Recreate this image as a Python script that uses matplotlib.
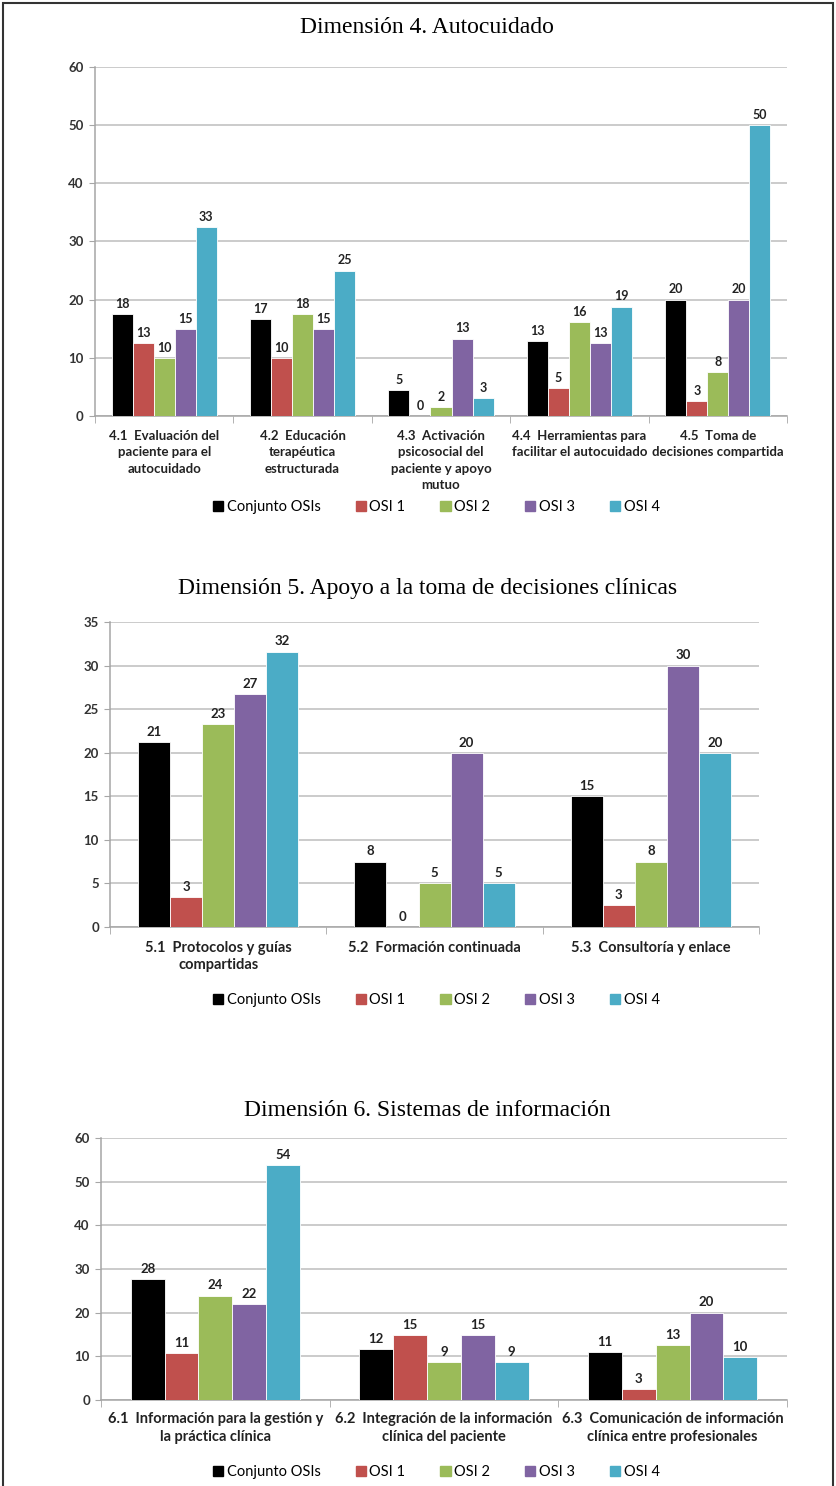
import matplotlib
matplotlib.use('Agg')
import matplotlib.pyplot as plt
import matplotlib.patches as mpatches
import numpy as np

# ── data ────────────────────────────────────────────────
series = ["Conjunto OSIs", "OSI 1", "OSI 2", "OSI 3", "OSI 4"]
colors = ['#000000', '#C0504D', '#9BBB59', '#8064A2', '#4BACC6']

cats4 = ["4.1  Evaluación del\npaciente para el\nautocuidado",
         "4.2  Educación\nterapéutica\nestructurada",
         "4.3  Activación\npsicosocial del\npaciente y apoyo\nmutuo",
         "4.4  Herramientas para\nfacilitar el autocuidado",
         "4.5  Toma de\ndecisiones compartida"]
# rows = series, cols = categories
vals4 = [[17.5, 16.7, 4.5, 12.9, 20.0],
         [12.5, 10.0, 0.0, 4.8, 2.5],
         [10.0, 17.5, 1.5, 16.1, 7.5],
         [15.0, 15.0, 13.3, 12.5, 20.0],
         [32.5, 25.0, 3.1, 18.8, 50.0]]

cats5 = ["5.1  Protocolos y guías\ncompartidas",
         "5.2  Formación continuada",
         "5.3  Consultoría y enlace"]
vals5 = [[21.2, 7.5, 15.0],
         [3.4, 0.0, 2.5],
         [23.3, 5.0, 7.5],
         [26.7, 20.0, 30.0],
         [31.6, 5.0, 20.0]]

cats6 = ["6.1  Información para la gestión y\nla práctica clínica",
         "6.2  Integración de la información\nclínica del paciente",
         "6.3  Comunicación de información\nclínica entre profesionales"]
vals6 = [[27.6, 11.6, 11.0],
         [10.8, 14.8, 2.5],
         [23.9, 8.7, 12.5],
         [21.9, 14.8, 20.0],
         [53.8, 8.7, 9.8]]

TICK_FONT = 'Lato'
TITLE_FONT = 'Liberation Serif'

fig = plt.figure(figsize=(8.36, 14.86), dpi=100)

# outer frame
frame = mpatches.Rectangle((0.003, -0.01), 0.994, 1.008, transform=fig.transFigure,
                           fill=False, edgecolor='#333333', linewidth=1.5)
fig.patches.append(frame)


def panel(rect, cats, vals, ymax, ystep, title, title_y, legend_y, bw, lblsize, valsize,
          lspace=1.3, lpad=8):
    ax = fig.add_axes(rect)
    n = len(cats)
    x = np.arange(n)
    for i, (name, col) in enumerate(zip(series, colors)):
        pos = x + (i - 2) * bw
        ax.bar(pos, vals[i], bw, color=col, edgecolor='white', linewidth=0.6,
               zorder=3, label=name)
        for px, v in zip(pos, vals[i]):
            ax.annotate(f'{int(v + 0.5)}', (px, v), xytext=(0, 3),
                        textcoords='offset points', ha='center', va='bottom',
                        fontsize=valsize, fontweight='bold', color='#222222',
                        family=TICK_FONT)
    ax.set_xlim(-0.5, n - 0.5)
    ax.set_ylim(0, ymax)
    ax.set_yticks(np.arange(0, ymax + 0.1, ystep))
    ax.grid(axis='y', color='#bdbdbd', linewidth=1.1, zorder=0)
    ax.set_axisbelow(True)
    for s in ['top', 'right']:
        ax.spines[s].set_visible(False)
    for s in ['left', 'bottom']:
        ax.spines[s].set_color('#a6a6a6')
        ax.spines[s].set_linewidth(1.1)
    ax.set_xticks(x)
    ax.set_xticklabels(cats, fontsize=lblsize, fontweight='bold',
                       family=TICK_FONT, color='#222222', linespacing=lspace)
    ax.tick_params(axis='x', length=0, pad=lpad)
    ax.set_xticks(np.arange(-0.5, n, 1.0), minor=True)
    ax.tick_params(axis='x', which='minor', length=5, color='#a6a6a6')
    ax.tick_params(axis='y', length=4, color='#a6a6a6', labelsize=9.5,
                   labelcolor='#333333', pad=4)
    for t in ax.get_yticklabels():
        t.set_fontweight('bold')
        t.set_family(TICK_FONT)
    fig.text(0.511, title_y, title, ha='center', va='center', fontsize=17,
             family=TITLE_FONT)
    handles = [mpatches.Patch(color=c, label=s) for s, c in zip(series, colors)]
    fig.legend(handles=handles, loc='center', bbox_to_anchor=(0.522, legend_y),
               ncol=5, frameon=False, handlelength=0.7,
               handleheight=0.7, handletextpad=0.25, columnspacing=2.4,
               prop={'family': TICK_FONT, 'size': 10.5})
    return ax


panel([0.1136, 0.7201, 0.8278, 0.2348], cats4, vals4, 60, 10,
      'Dimensión 4. Autocuidado', 0.9818, 0.6588, 0.152, 9.5, 9,
      lspace=1.45, lpad=10)
panel([0.1316, 0.3762, 0.7763, 0.2052], cats5, vals5, 35, 5,
      'Dimensión 5. Apoyo a la toma de decisiones clínicas', 0.6043, 0.327, 0.148, 10.5, 9.5,
      lpad=10)
panel([0.1208, 0.0579, 0.8206, 0.1763], cats6, vals6, 60, 10,
      'Dimensión 6. Sistemas de información', 0.2524, 0.0094, 0.148, 10.5, 9.5,
      lpad=9)

fig.savefig('out.png', dpi=100)
